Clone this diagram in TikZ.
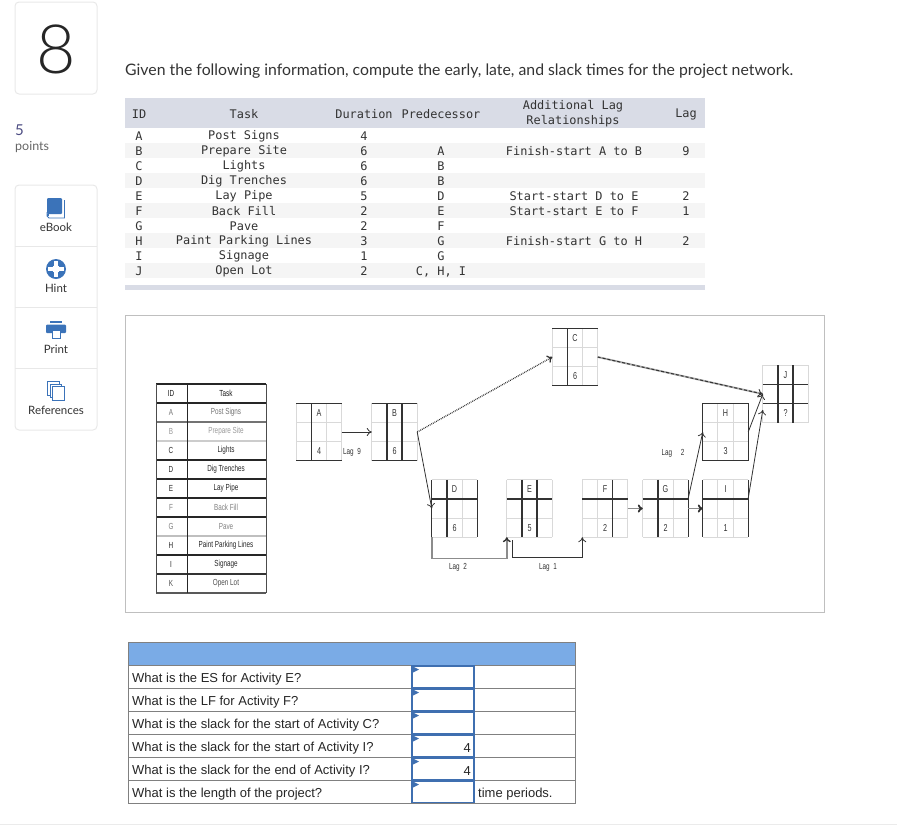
\documentclass[tikz,border=0pt]{standalone}
\usepackage{fontspec}
\usepackage{tikz}
\usetikzlibrary{calc,arrows.meta}
\setmainfont{Liberation Sans}
\newfontfamily\uifont{Lato}
\newfontfamily\numfont{Lato Light}
\newfontfamily\monofont{DejaVu Sans Mono}
\newfontfamily\sketchfont[FakeStretch=0.72]{Liberation Sans}
\definecolor{headband}{HTML}{D9DCE6}
\definecolor{rowband}{HTML}{F5F5F5}
\definecolor{iconblue}{HTML}{3B73B9}
\definecolor{tablehead}{HTML}{7AABE6}
\definecolor{cellblue}{HTML}{3F6FB0}
\definecolor{sideline}{HTML}{E8E8E8}
\definecolor{inkgray}{HTML}{333333}
\newcommand{\activity}[7]{
	\node[actbox] (#1) at (#2,#3) {};
	\foreach \f in {0,.333,.667,1} {
		\draw[actgrid] ($(#1.north west)!\f!(#1.north east)$) -- ($(#1.south west)!\f!(#1.south east)$);
		\draw[actgrid] ($(#1.north west)!\f!(#1.south west)$) -- ($(#1.north east)!\f!(#1.south east)$);
	}
	\foreach \f in {#6}
		\draw[actdark] ($(#1.north west)!\f!(#1.north east)$) -- ($(#1.south west)!\f!(#1.south east)$);
	\foreach \f in {#7}
		\draw[actdark] ($(#1.north west)!\f!(#1.south west)$) -- ($(#1.north east)!\f!(#1.south east)$);
	\node[sketch,font=\sketchfont\fontsize{10}{11}\selectfont] (#1top) at ($(#1.north)+(0,9.5)$) {#4};
	\node[sketch,font=\sketchfont\fontsize{10}{11}\selectfont] (#1low) at ($(#1.south)+(0,-9.5)$) {#5};
}
\begin{document}
\begin{tikzpicture}[x=1pt,y=-1pt,
		>={To[length=5pt,width=8pt]},
		sidebox/.style={draw=sideline,line width=1pt,rounded corners=4pt},
		sidetext/.style={font=\uifont\fontsize{11.5}{13}\selectfont,text=black!80,inner sep=0pt},
		mono/.style={font=\monofont\fontsize{11.9}{14.5}\selectfont,text=black!80,inner sep=0pt,align=center},
		sketch/.style={font=\sketchfont\fontsize{8.8}{10}\selectfont,text=black!80,inner sep=0pt},
		actbox/.style={minimum width=45pt,minimum height=57pt,inner sep=0pt},
		actgrid/.style={draw=black!15,line width=.9pt},
		actdark/.style={draw=inkgray,line width=1.2pt},
		link/.style={->,draw=inkgray,line width=.8pt},
		graylink/.style={-{To[length=5pt,width=8pt,color=inkgray]},draw=black!45,line width=1.8pt},
		asktext/.style={font=\fontsize{13}{16}\selectfont,text=black!85,inner sep=0pt},
	]
	\useasboundingbox (0,0) rectangle (897,833);
	\draw[black!8,line width=1pt] (0,824) -- (897,824);

	\draw[sidebox] (15,2) rectangle (97,94);
	\node[font=\numfont\fontsize{68}{70}\selectfont,text=black!85] (qnum) at (56,49) {8};
	\node[font=\uifont\fontsize{15}{16}\selectfont,text=blue!30!black!70,inner sep=0pt,anchor=west] (pts) at (15,130) {5};
	\node[font=\uifont\fontsize{12.5}{14}\selectfont,text=black!60,inner sep=0pt,anchor=west] (ptslabel) at (15,147) {points};

	\draw[sidebox] (15,185) rectangle (97,430);
	\foreach \y in {246,307,368}
		\draw[sideline,line width=1pt] (15,\y) -- (97,\y);
	\node[sidetext] (ebook) at (56,227) {eBook};
	\node[sidetext] (hint) at (56,288) {Hint};
	\node[sidetext] (print) at (56,349) {Print};
	\node[sidetext] (refs) at (56,410) {References};
	\fill[iconblue,rounded corners=1pt] (47,198) rectangle (62,214);
	\draw[iconblue,line width=.8pt] (64.5,200) -- (64.5,218) -- (49,218) -- (47,216) -- (47,212);
	\fill[iconblue] (47,214) rectangle (49,216);
	\fill[iconblue] (56,269) circle[radius=10];
	\draw[white,line width=3.2pt] (48.2,269) -- (63.8,269);
	\draw[white,line width=3.2pt] (56,261.2) -- (56,276.8);
	\fill[white] (56,269) circle[radius=4];
	\fill[iconblue] (50,321) rectangle (62,323);
	\fill[iconblue,rounded corners=1pt] (46,324.5) rectangle (66,333);
	\draw[iconblue,fill=white,line width=.8pt] (52,330) rectangle (60,338);
	\foreach \d in {0,2.5,5}
		\draw[iconblue,fill=white,line width=.8pt] (47.5+\d,381.5+\d) rectangle (59+\d,395+\d);

	\node[font=\uifont\fontsize{15.8}{18}\selectfont,text=black!80,inner sep=0pt,anchor=west] (title) at (125,71.5) {Given the following information, compute the early, late, and slack times for the project network.};

	\fill[headband] (125,98) rectangle (705,128);
	\fill[headband] (125,285) rectangle (705,290);
	\foreach \y in {143,173,203,233,263}
		\fill[rowband] (125,\y) rectangle (705,\y+15);
	\node[mono] (hid) at (139,114.5) {ID};
	\node[mono] (htask) at (244,114.5) {Task};
	\node[mono] (hdur) at (364,114.5) {Duration};
	\node[mono] (hpred) at (441,114.5) {Predecessor};
	\node[mono] (hadd) at (573,113.5) {Additional Lag\\Relationships};
	\node[mono] (hlag) at (686,114.5) {Lag};
	\foreach \r/\id/\task/\dur/\pred/\rel/\lag in {
		0/A/Post Signs/4///,
		1/B/Prepare Site/6/A/Finish-start A to B/9,
		2/C/Lights/6/B//,
		3/D/Dig Trenches/6/B//,
		4/E/Lay Pipe/5/D/Start-start D to E/2,
		5/F/Back Fill/2/E/Start-start E to F/1,
		6/G/Pave/2/F//,
		7/H/Paint Parking Lines/3/G/Finish-start G to H/2,
		8/I/Signage/1/G//,
		9/J/Open Lot/2/{C, H, I}//} {
		\node[mono] (id\r) at (139,136.5+15*\r) {\id};
		\node[mono] (task\r) at (244,136.5+15*\r) {\task};
		\node[mono] (dur\r) at (364,136.5+15*\r) {\dur};
		\node[mono] (pred\r) at (441,136.5+15*\r) {\pred};
		\node[mono] (rel\r) at (574,136.5+15*\r) {\rel};
		\node[mono] (lag\r) at (686,136.5+15*\r) {\lag};
	}

	\draw[black!25,line width=1pt] (125.5,315.5) rectangle (824,612);

	\foreach \r/\id/\task/\shade in {
		0/ID/Task/90,
		1/A/Post Signs/55,
		2/B/Prepare Site/40,
		3/C/Lights/85,
		4/D/Dig Trenches/85,
		5/E/Lay Pipe/85,
		6/F/Back Fill/50,
		7/G/Pave/50,
		8/H/Paint Parking Lines/85,
		9/I/Signage/85,
		10/K/Open Lot/70} {
		\node[sketch,text=black!\shade] (rid\r) at (171,393.5+19*\r) {\id};
		\node[sketch,text=black!\shade] (rtask\r) at (226,393.5+19*\r) {\task};
	}
	\foreach \y/\shade in {384/85,403/85,422/55,441/20,460/85,479/85,498/85,517/85,536/25,555/85,574/80,593/65}
		\draw[black!\shade,line width=1.1pt] (156,\y) -- (266,\y);
	\draw[black!70,line width=.8pt] (156,384) -- (156,593);
	\draw[black!70,line width=.8pt] (266,384) -- (266,593);
	\draw[black!85,line width=.8pt] (187,384) -- (187,593);

	\activity{nA}{319}{432}{A}{4}{.333}{0,1}
	\activity{nB}{394.5}{432}{B}{6}{.333,.667}{0,1}
	\activity{nC}{575}{357}{C}{6}{.333}{0,1}
	\activity{nD}{454.5}{508.5}{D}{6}{0,.333,1}{.333}
	\activity{nE}{529.5}{508.5}{E}{5}{.333,.667}{.333}
	\activity{nF}{605}{508.5}{F}{2}{.667}{.333}
	\activity{nG}{665.5}{508.5}{G}{2}{.333,1}{.333}
	\activity{nH}{725.5}{432}{H}{3}{0,1}{0,1}
	\activity{nI}{725.5}{508.5}{I}{1}{0,1}{.333}
	\activity{nJ}{785.5}{394}{J}{?}{.333,.667}{.333,.667}

	\draw[link] (nA.east) -- (nB.west);
	\draw[link,densely dotted,line width=1.3pt] (nB.east) -- (nC.west);
	\draw[link] (nB.east) -- (nD.west);
	\draw[black!35,line width=1.8pt,shorten >=3pt] (nC.east) -- (nJ.west);
	\draw[link,densely dashed,line width=1pt] (nC.east) -- (nJ.west);
	\draw[link] (nH.east) -- (nJ.west);
	\draw[link] (nI.24) -- (nJ.215);
	\draw[link] (nG.24) -- (nH.west);
	\draw[graylink] (nF.east) -- (nG.west);
	\draw[graylink] (nG.east) -- (nI.west);
	\draw[graylink,line width=1.4pt] (nD.south west) -- ++(0,21) -| (nE.south west);
	\draw[link] ($(nE.south west)+(6,3)$) -- ++(0,17) -| (nF.south west);
	\node[sketch] (lagab) at (352,452) {Lag\ \ 9};
	\node[sketch] (lagde) at (458,567) {Lag\ \ 2};
	\node[sketch] (lagef) at (548,567) {Lag\ \ 1};
	\node[sketch] (laggh) at (673,453) {Lag\quad 2};

	\fill[tablehead] (128.5,642.5) rectangle (575,665);
	\foreach \r/\ask/\val/\unit in {
		0/What is the ES for Activity E?//,
		1/What is the LF for Activity F?//,
		2/What is the slack for the start of Activity C?//,
		3/What is the slack for the start of Activity I?/4/,
		4/What is the slack for the end of Activity I?/4/,
		5/What is the length of the project?//time periods.} {
		\draw[black!50,line width=1pt] (128.5,665+23*\r) -- (575,665+23*\r);
		\node[asktext,anchor=west] (ask\r) at (132,679+23*\r) {\ask};
		\node[asktext,anchor=east] (val\r) at (471,679+23*\r) {\val};
		\node[asktext,anchor=west] (unit\r) at (478,679+23*\r) {\unit};
	}
	\draw[black!50,line width=1pt] (128.5,642.5) rectangle (575,803.5);
	\draw[black!50,line width=1pt] (474,665) -- (474,803.5);
	\foreach \r in {0,...,5} {
		\draw[cellblue,line width=1.6pt] (412,665.8+23*\r) rectangle (474,687.4+23*\r);
		\fill[cellblue] (413,666.5+23*\r) -- (419,669.5+23*\r) -- (413,672.5+23*\r) -- cycle;
	}
\end{tikzpicture}
\end{document}
